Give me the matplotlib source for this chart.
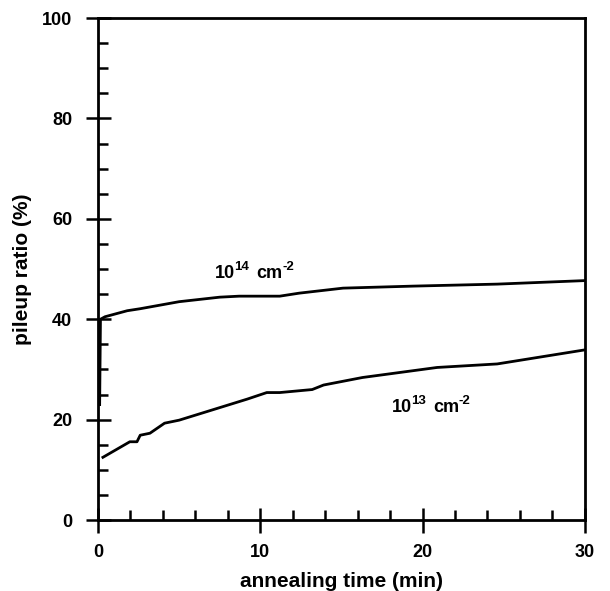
import matplotlib
matplotlib.use('Agg')
import matplotlib.pyplot as plt
from matplotlib.ticker import MultipleLocator

plt.rcParams['font.family'] = ['Liberation Sans', 'DejaVu Sans']
plt.rcParams['font.weight'] = 'bold'

# 1e14 cm^-2 curve
t_hi = [0.1, 0.15, 0.43, 1.8, 2.6, 5.0, 7.5, 8.7, 11.2, 12.4, 15.1, 19.4, 24.6, 30.0]
r_hi = [23.0, 40.0, 40.5, 41.7, 42.1, 43.5, 44.4, 44.6, 44.6, 45.2, 46.2, 46.6, 47.0, 47.7]

# 1e13 cm^-2 curve
t_lo = [0.3, 1.96, 2.4, 2.6, 3.2, 4.1, 5.0, 6.7, 7.9, 9.2, 10.4, 11.2, 13.2, 13.9,
        16.3, 20.9, 24.6, 30.0]
r_lo = [12.5, 15.6, 15.6, 16.9, 17.3, 19.3, 19.9, 21.6, 22.8, 24.1, 25.4, 25.4, 26.0, 26.9,
        28.4, 30.4, 31.1, 33.9]

labels = [('14', 7.2, 48.2), ('13', 18.1, 21.5)]


def dose_label(ax, exp, x, y):
    # "10^exp cm^-2" built from pieces so the exponent sign stays a hyphen
    base = ax.text(x, y, '10', fontsize=13, fontweight='bold', va='baseline')
    sup = ax.annotate(exp, xy=(1, 0.55), xycoords=base, xytext=(-0.8, 0),
                      textcoords='offset points', fontsize=9.5, fontweight='bold',
                      va='bottom')
    cm = ax.annotate('cm', xy=(1, 0), xycoords=(sup, base), xytext=(5.5, 0),
                     textcoords='offset points', fontsize=13, fontweight='bold',
                     va='bottom')
    ax.annotate('-2', xy=(1, 0.55), xycoords=(cm, base), xytext=(-0.3, 0),
                textcoords='offset points', fontsize=9.5, fontweight='bold',
                va='bottom')


fig = plt.figure(figsize=(6.1, 5.91), dpi=100)
ax = fig.add_axes([0.1607, 0.120, 0.798, 0.8495])

ax.plot(t_hi, r_hi, color='black', lw=2)
ax.plot(t_lo, r_lo, color='black', lw=2)

for exp, x, y in labels:
    dose_label(ax, exp, x, y)

ax.set_xlim(0, 30)
ax.set_ylim(0, 100)
ax.xaxis.set_major_locator(MultipleLocator(10))
ax.xaxis.set_minor_locator(MultipleLocator(2))
ax.yaxis.set_major_locator(MultipleLocator(20))
ax.yaxis.set_minor_locator(MultipleLocator(5))

ax.tick_params(which='major', direction='inout', length=18, width=1.8, labelsize=13)
ax.tick_params(which='minor', direction='in', length=7, width=1.8)
ax.tick_params(axis='x', which='major', pad=8.5)
ax.tick_params(axis='y', which='major', pad=9.5)
ax.tick_params(top=False, right=False)
for lab in ax.get_xticklabels() + ax.get_yticklabels():
    lab.set_fontweight('bold')
for s in ax.spines.values():
    s.set_linewidth(2)

ax.set_xlabel('annealing time (min)', fontsize=15, fontweight='bold', labelpad=8)
ax.set_ylabel('pileup ratio (%)', fontsize=15, fontweight='bold', labelpad=7)

plt.savefig('out.png', dpi=100)
